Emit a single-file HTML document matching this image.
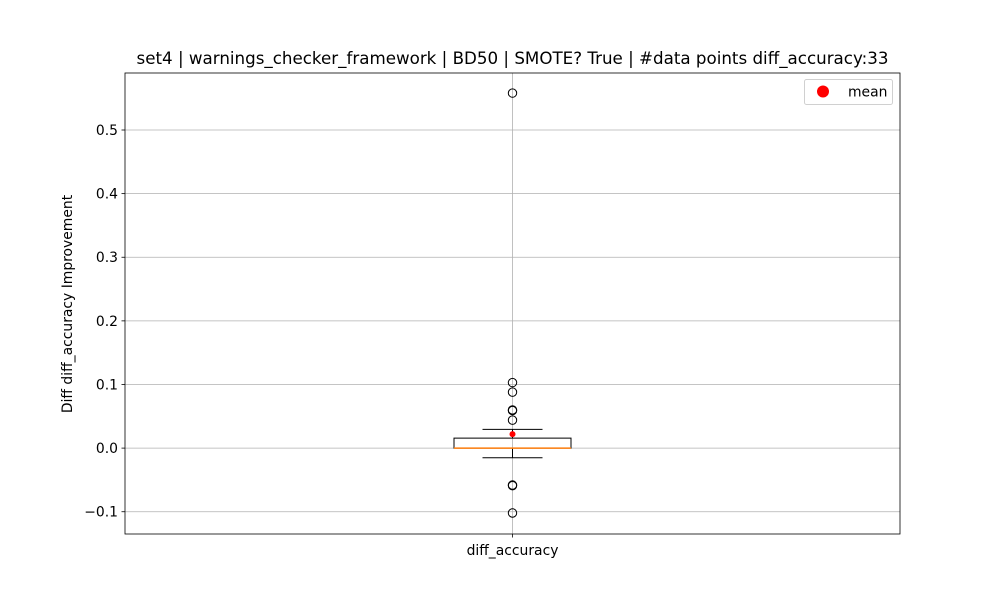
<!DOCTYPE html>
<html><head><meta charset="utf-8">
<style>
html,body{margin:0;padding:0;background:#fff;}
svg{display:block;font-family:"DejaVu Sans","Liberation Sans",sans-serif;}
</style></head>
<body>
<svg id="chart" width="1000" height="600" xmlns="http://www.w3.org/2000/svg"></svg>
<script>
const categories = ["diff_accuracy"];
const q1Values = [0.0];
const medianValues = [0.0];
const q3Values = [0.0157];
const whiskerLow = [-0.0152];
const whiskerHigh = [0.0294];
const meanValues = [0.022];
const outlierValues = [[0.558, 0.103, 0.088, 0.060, 0.059, 0.044, -0.058, -0.059, -0.102]];
const yTicks = [-0.1, 0.0, 0.1, 0.2, 0.3, 0.4, 0.5];
const yTickLabels = ["\u22120.1", "0.0", "0.1", "0.2", "0.3", "0.4", "0.5"];

const L = 125, R = 900, T = 73, B = 534;
const yMin = -0.135, yMax = 0.5896;
const FS = 13.9;
const NS = "http://www.w3.org/2000/svg";
const svg = document.getElementById('chart');
function y(v){ return B - (v - yMin) / (yMax - yMin) * (B - T); }
function x(i){ return L + (R - L) * (i + 0.5) / categories.length; }
function mk(tag, attrs, parent){
  const e = document.createElementNS(NS, tag);
  for (const k in attrs) e.setAttribute(k, attrs[k]);
  (parent || svg).appendChild(e);
  return e;
}

yTicks.forEach((t, i) => {
  const g = mk('line', {x1:L, x2:R, y1:y(t), y2:y(t), stroke:'#b0b0b0', 'stroke-width':0.8});
  
  
  const tk = mk('line', {x1:L-3.5, x2:L, y1:y(t), y2:y(t), stroke:'#000', 'stroke-width':0.8});
  
  
  const tx = mk('text', {x:L-7, y:y(t)+5, 'text-anchor':'end', 'font-size':FS, fill:'#000'});
  tx.textContent = yTickLabels[i];
  
  
});

categories.forEach((c, i) => {
  const cx = x(i);
  const vg = mk('line', {x1:cx, x2:cx, y1:T, y2:B, stroke:'#b0b0b0', 'stroke-width':0.8});
  
  
  const xt = mk('line', {x1:cx, x2:cx, y1:B, y2:B+3.5, stroke:'#000', 'stroke-width':0.8});
  
  
  const xl = mk('text', {x:cx, y:B+21, 'text-anchor':'middle', 'font-size':FS});
  xl.textContent = c;
  
  

  const hw = 58.5, cw = 30;
  const w1 = mk('line', {x1:cx, x2:cx, y1:y(q3Values[i]), y2:y(whiskerHigh[i]), stroke:'#000', 'stroke-width':1});
  
  
  const w2 = mk('line', {x1:cx, x2:cx, y1:y(q1Values[i]), y2:y(whiskerLow[i]), stroke:'#000', 'stroke-width':1});
  
  
  const c1 = mk('line', {x1:cx-cw, x2:cx+cw, y1:y(whiskerHigh[i]), y2:y(whiskerHigh[i]), stroke:'#000', 'stroke-width':1});
  
  
  const c2 = mk('line', {x1:cx-cw, x2:cx+cw, y1:y(whiskerLow[i]), y2:y(whiskerLow[i]), stroke:'#000', 'stroke-width':1});
  
  
  const bx = mk('rect', {x:cx-hw, y:y(q3Values[i]), width:2*hw, height:y(q1Values[i])-y(q3Values[i]), fill:'none', stroke:'#000', 'stroke-width':1});
  
  
  const md = mk('line', {x1:cx-hw, x2:cx+hw, y1:y(medianValues[i]), y2:y(medianValues[i]), stroke:'#ff7f0e', 'stroke-width':1.5});
  
  
  outlierValues[i].forEach(v => {
    const o = mk('circle', {cx:cx, cy:y(v), r:4.2, fill:'none', stroke:'#000', 'stroke-width':1});
    
    
  });
  const mn = mk('circle', {cx:cx, cy:y(meanValues[i]), r:3, fill:'#ff0000'});
  
  
});

const frame = mk('rect', {x:L, y:T, width:R-L, height:B-T, fill:'none', stroke:'#000', 'stroke-width':0.8});



const title = mk('text', {x:(L+R)/2, y:64, 'text-anchor':'middle', 'font-size':16.7});
title.textContent = "set4 | warnings_checker_framework | BD50 | SMOTE? True | #data points diff_accuracy:33";



const yt = mk('text', {x:0, y:0, 'text-anchor':'middle', 'font-size':FS, transform:'translate(72,304) rotate(-90)'});
yt.textContent = "Diff diff_accuracy Improvement";



const lg = mk('g', {});


mk('rect', {x:804.5, y:79.5, width:88, height:25, rx:2, fill:'#fff', stroke:'#d0d0d0', 'stroke-width':1}, lg);
const ld = mk('circle', {cx:823, cy:91.5, r:6, fill:'#ff0000'}, lg);


const lt = mk('text', {x:848, y:96.5, 'font-size':FS}, lg);
lt.textContent = "mean";


</script>
</body></html>
